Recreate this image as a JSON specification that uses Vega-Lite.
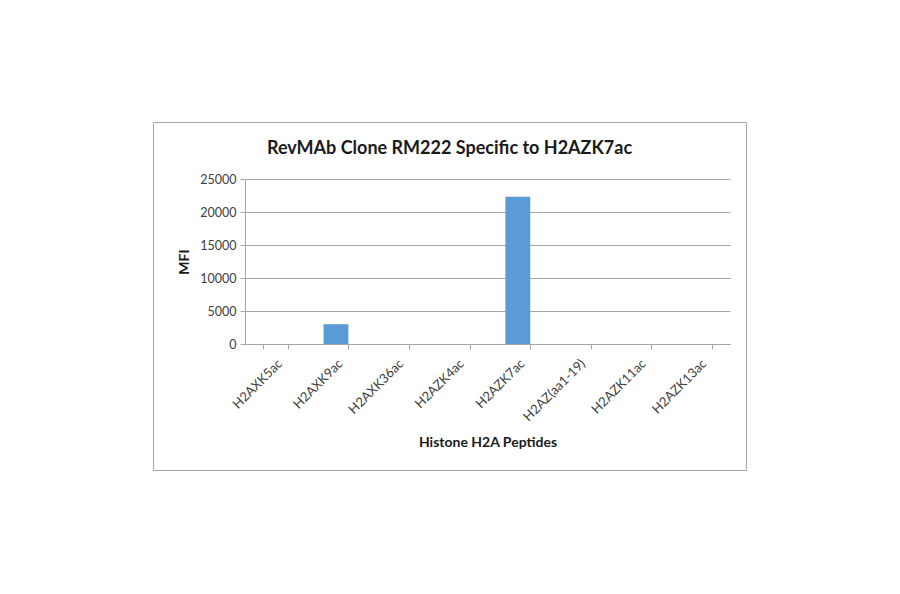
{
  "$schema": "https://vega.github.io/schema/vega-lite/v6.json",
  "description": "MFI of RevMAb clone RM222 against histone H2A peptides.",
  "autosize": "none",
  "width": 593,
  "height": 348,
  "padding": {"left": 153, "top": 122, "right": 154, "bottom": 124},
  "background": "white",
  "title": {
    "text": "RevMAb Clone RM222 Specific to H2AZK7ac",
    "font": "Lato",
    "fontSize": 18,
    "fontWeight": "bold",
    "color": "#1a1a1a",
    "anchor": "middle",
    "baseline": "middle",
    "offset": -45
  },
  "data": {
    "values": [
      {"peptide": "H2AXK5ac", "mfi": 0},
      {"peptide": "H2AXK9ac", "mfi": 3000},
      {"peptide": "H2AXK36ac", "mfi": 0},
      {"peptide": "H2AZK4ac", "mfi": 0},
      {"peptide": "H2AZK7ac", "mfi": 22300},
      {"peptide": "H2AZ(aa1-19)", "mfi": 0},
      {"peptide": "H2AZK11ac", "mfi": 0},
      {"peptide": "H2AZK13ac", "mfi": 0}
    ]
  },
  "mark": {"type": "bar", "color": "#5b9bd5"},
  "encoding": {
    "x": {
      "field": "peptide",
      "type": "nominal",
      "sort": null,
      "scale": {"range": [92, 577], "paddingInner": 0.59, "paddingOuter": 0.295},
      "axis": {
        "title": "Histone H2A Peptides",
        "offset": -126,
        "labelAngle": -45,
        "labelFontSize": 13,
        "tickBand": "extent",
        "tickSize": 5,
        "labelPadding": 8,
        "titlePadding": 12
      }
    },
    "y": {
      "field": "mfi",
      "type": "quantitative",
      "scale": {"domain": [0, 25000], "range": [222, 57], "nice": false},
      "axis": {
        "title": "MFI",
        "offset": -92,
        "values": [0, 5000, 10000, 15000, 20000, 25000],
        "format": "d",
        "labelFontSize": 12.5,
        "tickSize": 5,
        "labelPadding": 4,
        "titlePadding": 8,
        "grid": true,
        "domain": true
      }
    }
  },
  "config": {
    "font": "Lato",
    "view": {"stroke": "#a6a6a6", "strokeWidth": 1},
    "axis": {
      "labelFont": "Lato",
      "labelFontSize": 12,
      "labelColor": "#404040",
      "titleFont": "Lato",
      "titleFontSize": 14,
      "titleFontWeight": "bold",
      "titleColor": "#1a1a1a",
      "domainColor": "#a6a6a6",
      "tickColor": "#a6a6a6",
      "gridColor": "#a6a6a6",
      "gridWidth": 1
    }
  }
}
